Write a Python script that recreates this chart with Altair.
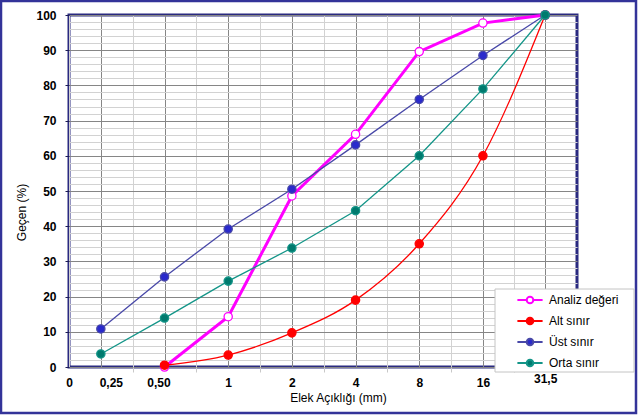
import math
import json
import altair as alt
import pandas as pd

# ---------------- data ----------------
sieve_sizes = [0.25, 0.5, 1, 2, 4, 8, 16, 31.5]
sieve_labels = ["0,25", "0,50", "1", "2", "4", "8", "16", "31,5"]
zero_label = "0"

series_names = ["Analiz değeri", "Alt sınır", "Üst sınır", "Orta sınır"]
analiz = [None, 0, 14.3, 48.6, 66.1, 89.6, 97.7, 100]
alt_sinir = [None, 0.5, 3.4, 9.7, 19.0, 35.0, 60.0, 100]
ust_sinir = [10.8, 25.6, 39.2, 50.5, 63.1, 76.0, 88.5, 100]
orta_sinir = [3.7, 13.9, 24.4, 33.8, 44.4, 60.0, 79.0, 100]

line_colors = ["#ff00ff", "#ff0000", "#4848a8", "#139588"]
marker_fills = ["#ffffff", "#ff0000", "#2a2acc", "#007a6e"]
line_widths = [3, 1.3, 1.3, 1.3]
interps = ["linear", "monotone", "linear", "linear"]

rows = []
for name, vals in zip(series_names, [analiz, alt_sinir, ust_sinir, orta_sinir]):
    for s, v in zip(sieve_sizes, vals):
        if v is not None:
            rows.append({"series": name, "size": s, "value": v})
df = pd.DataFrame(rows)

# ---------------- axes ----------------
edge_left = sieve_sizes[0] / math.sqrt(2)
edge_right = sieve_sizes[-1] * math.sqrt(2)
x_vals = [edge_left]
for i, s in enumerate(sieve_sizes):
    if i > 0:
        x_vals.append(math.sqrt(sieve_sizes[i - 1] * s))
    x_vals.append(s)

sizes_js = json.dumps(sieve_sizes)
labels_js = json.dumps(sieve_labels)
is_major = f"indexof({sizes_js}, datum.value) >= 0"
x_label_expr = (
    f"datum.value < {sieve_sizes[0] * 0.8} ? '{zero_label}' : "
    f"({is_major} ? {labels_js}[indexof({sizes_js}, datum.value)] : '')"
)

FONT = "Liberation Sans"

x_axis = alt.Axis(
    values=x_vals,
    labelExpr=x_label_expr,
    grid=True,
    gridColor={"condition": {"test": is_major, "value": "#868686"}, "value": "#d2d2d2"},
    gridWidth=1,
    domain=False,
    ticks=True,
    tickSize=5,
    tickColor="#c8c8c8",
    tickOpacity={"condition": {"test": f"!({is_major}) && datum.value > {sieve_sizes[0] * 0.8}", "value": 1}, "value": 0},
    labelFont=FONT,
    labelFontSize=12,
    labelFontWeight="bold",
    labelColor="black",
    labelPadding={"condition": {"test": "datum.value == 31.5", "value": 1}, "value": 5},
    labelOffset={"condition": [{"test": "datum.value == 0.25", "value": 10},
                               {"test": "datum.value == 0.5", "value": -6}], "value": 0},
    labelOverlap=False,
    labelFlush=False,
    title="Elek Açıklığı (mm)",
    titleFont=FONT,
    titleFontSize=12,
    titleFontWeight="normal",
    titleColor="black",
    titleX=269,
    titleY=25,
    titleAlign="center",
    titleBaseline="top",
)

is_major_y = "datum.value % 10 == 0"
y_axis = alt.Axis(
    values=list(range(0, 101, 2)),
    labelExpr=f"{is_major_y} ? datum.label : ''",
    grid=True,
    gridColor={"condition": {"test": is_major_y, "value": "#868686"}, "value": "#d2d2d2"},
    gridWidth=1,
    domain=False,
    tickSize=4,
    tickColor="#1a1a55",
    tickOpacity={"condition": {"test": is_major_y, "value": 1}, "value": 0},
    labelFont=FONT,
    labelFontSize=12,
    labelFontWeight="bold",
    labelColor="black",
    labelPadding=9,
    labelOverlap=False,
    labelFlush=False,
    title="Geçen (%)",
    titleFont=FONT,
    titleFontSize=12,
    titleFontWeight="normal",
    titleColor="black",
    titleX=-48,
    titleY=197,
    titleAngle=270,
    titleAlign="center",
    titleBaseline="middle",
)

legend_symbol = ("M-2.1,0L-0.55,0M0.55,0L2.1,0"
                 "M-0.55,0A0.55,0.55,0,1,0,0.55,0A0.55,0.55,0,1,0,-0.55,0Z")
legend = alt.Legend(
    title=None,
    orient="none",
    legendX=436,
    legendY=278,
    symbolType=legend_symbol,
    symbolSize=144,
    symbolStrokeWidth=2,
    symbolOffset=18,
    labelOffset=12,
    labelFont=FONT,
    labelFontSize=12,
    labelColor="black",
    rowPadding=5,
    padding=0,
)

x_enc = alt.X("size:Q", scale=alt.Scale(type="log", base=2, domain=[edge_left, edge_right]), axis=x_axis)
y_enc = alt.Y("value:Q", scale=alt.Scale(domain=[0, 100], nice=False), axis=y_axis)
stroke_enc = alt.Stroke("series:N", scale=alt.Scale(domain=series_names, range=line_colors), legend=legend)
fill_enc = alt.Fill("series:N", scale=alt.Scale(domain=series_names, range=marker_fills), legend=legend)

one = pd.DataFrame({"k": [0]})

frame = alt.Chart(one).mark_rect(fill=None, stroke="#333399", strokeWidth=2.5).encode(
    x=alt.value(-68), x2=alt.value(567), y=alt.value(-14), y2=alt.value(398)
)

layers = [frame]
for i, name in enumerate(series_names):
    base = alt.Chart(df).transform_filter(alt.datum.series == name)
    ln = base.mark_line(strokeWidth=line_widths[i], interpolate=interps[i]).encode(
        x=x_enc, y=y_enc, stroke=stroke_enc
    )
    pt = base.mark_point(shape="circle", size=68, opacity=1, strokeWidth=1.3).encode(
        x=x_enc, y=y_enc, stroke=stroke_enc, fill=fill_enc
    )
    layers += [ln, pt]

legend_box = alt.Chart(one).mark_rect(fill="white", stroke="#c4c4c4", strokeWidth=1).encode(
    x=alt.value(426), x2=alt.value(565), y=alt.value(274), y2=alt.value(357)
)
layers.append(legend_box)

chart = alt.layer(*layers).properties(
    width=508,
    height=352,
    autosize=alt.AutoSizeParams(type="none"),
    padding={"left": 69, "top": 15, "right": 61, "bottom": 48},
    background="white",
).configure_view(stroke="#2a2a80", strokeWidth=3)

chart.save("out.html", embed_options={"renderer": "svg", "actions": False})
